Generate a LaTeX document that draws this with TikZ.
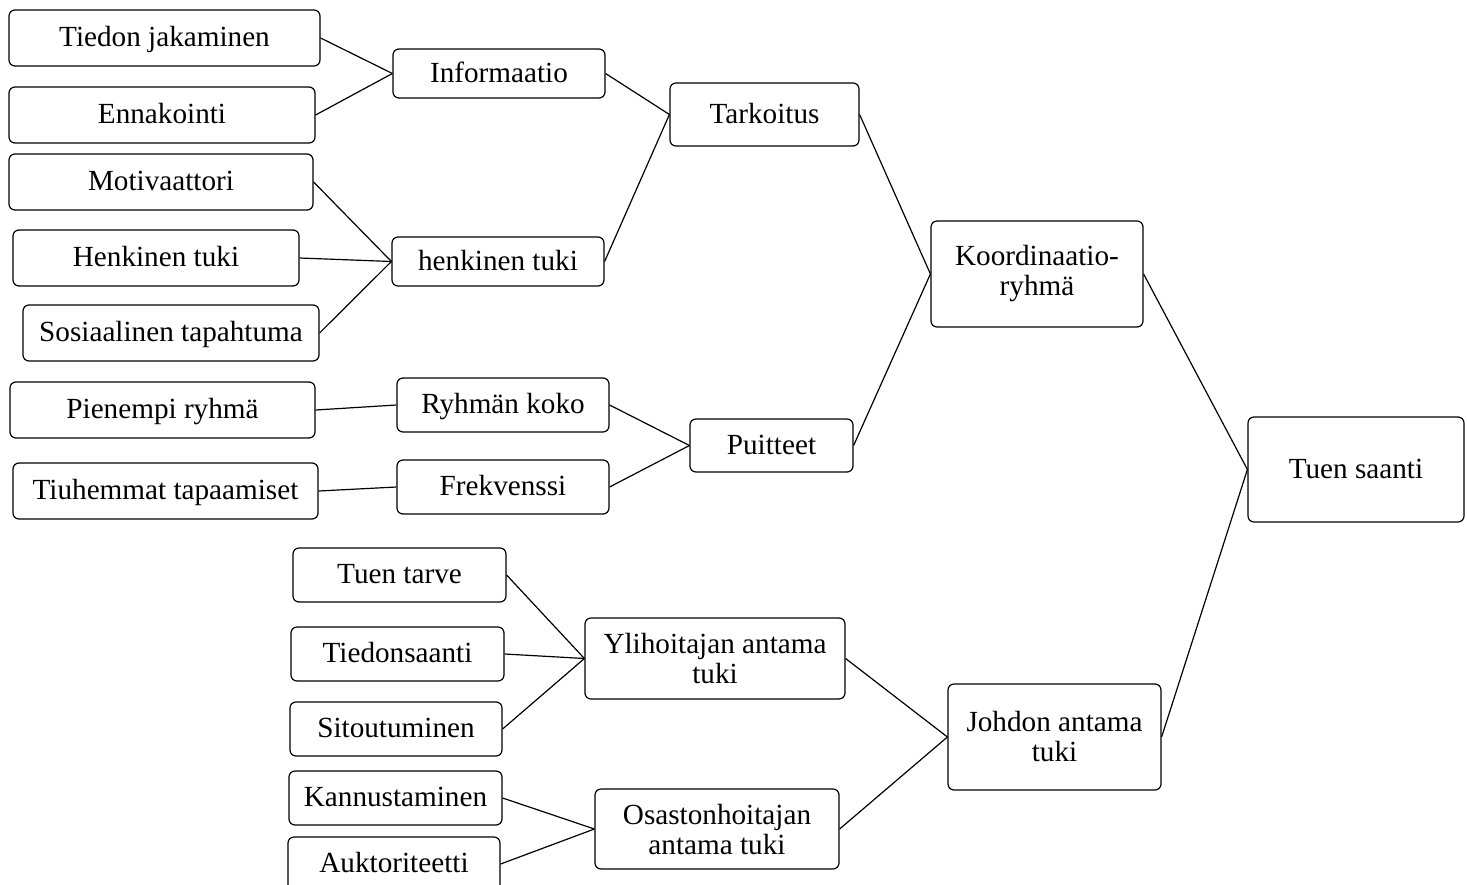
\documentclass[tikz,border=0pt]{standalone}
\usepackage{fontspec}
\setmainfont{Liberation Serif}
\usepackage{tikz}
\usetikzlibrary{positioning,calc}

\tikzset{
	box/.style 2 args={draw, rounded corners=3pt, line width=0.6pt, align=center, inner sep=1pt,
		font=\fontsize{14.6}{15}\selectfont, minimum width=#1*0.5pt, minimum height=#2*0.5pt},
	onebox/.style 2 args={box={#1}{#2}, text height=11pt, text depth=2.3pt},
	link/.style={line width=0.6pt}
}

\begin{document}
\begin{tikzpicture}[x=0.5pt, y=-0.5pt]
					\useasboundingbox (0,0) rectangle (1467,884);
					\node[onebox={311}{56}] (tiedon) at (164.5,38) {Tiedon jakaminen};
					\node[onebox={306}{56}] (ennak) at (162,115) {Ennakointi};
					\node[onebox={304}{56}] (motiv) at (161,182) {Motivaattori};
					\node[onebox={286}{56}] (henk) at (156,258) {Henkinen tuki};
					\node[onebox={296}{56}] (sosi) at (171,333) {Sosiaalinen tapahtuma};
					\node[onebox={305}{56}] (pien) at (162.5,410) {Pienempi ryhmä};
					\node[onebox={305}{56}] (tiuh) at (165.5,491) {Tiuhemmat tapaamiset};
					\node[onebox={212}{49}] (info) at (499,73.5) {Informaatio};
					\node[onebox={212}{49}] (henkt) at (498,261.5) {henkinen tuki};
					\node[onebox={212}{54}] (ryhm) at (503,405) {Ryhmän koko};
					\node[onebox={212}{54}] (frek) at (503,487) {Frekvenssi};
					\node[onebox={189}{63}] (tark) at (764.5,114.5) {Tarkoitus};
					\node[onebox={163}{53}] (puit) at (771.5,445.5) {Puitteet};
					\node[box={212}{106}] (koord) at (1037,274) {Koordinaatio-\\ryhmä};
					\node[onebox={216}{105}] (tuen) at (1356,469.5) {Tuen saanti};
					\node[box={213}{106}] (johdon) at (1054.5,737) {Johdon antama\\tuki};
					\node[onebox={213}{54}] (tarve) at (399.5,575) {Tuen tarve};
					\node[onebox={213}{54}] (tiedons) at (397.5,654) {Tiedonsaanti};
					\node[onebox={212}{54}] (sitout) at (396,729) {Sitoutuminen};
					\node[onebox={213}{54}] (kannus) at (395.5,798) {Kannustaminen};
					\node[onebox={212}{54}] (aukt) at (394,864) {Auktoriteetti};
					\node[box={260}{81}] (yli) at (715,658.5) {Ylihoitajan antama\\tuki};
					\node[box={244}{80}] (osas) at (717,829) {Osastonhoitajan\\antama tuki};
					\foreach \a/\b in {tiedon/info, ennak/info, motiv/henkt, henk/henkt, sosi/henkt,
						info/tark, henkt/tark, pien/ryhm, tiuh/frek, ryhm/puit, frek/puit,
						tark/koord, puit/koord, koord/tuen, johdon/tuen,
						tarve/yli, tiedons/yli, sitout/yli, kannus/osas, aukt/osas, yli/johdon, osas/johdon}
						\draw[link] (\a.east) -- (\b.west);
				\end{tikzpicture}
\end{document}
